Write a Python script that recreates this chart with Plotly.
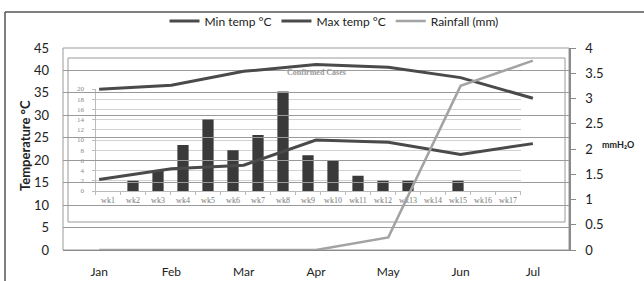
import plotly.graph_objects as go

months = ["Jan", "Feb", "Mar", "Apr", "May", "Jun", "Jul"]
min_temp = [15.7, 18.1, 18.9, 24.5, 24.0, 21.3, 23.7]
max_temp = [35.8, 36.7, 39.8, 41.3, 40.7, 38.4, 33.8]
rainfall = [0, 0, 0, 0, 0.25, 3.25, 3.75]

weeks = ["wk%d" % i for i in range(1, 18)]
cases = [0, 2, 4, 9, 14, 8, 11, 19.5, 7, 6, 3, 2, 2, 0, 2, 0, 0]

left_ticks = [0, 5, 10, 15, 20, 25, 30, 35, 40, 45]
right_ticks = [0, 0.5, 1, 1.5, 2, 2.5, 3, 3.5, 4]
inset_ticks = list(range(0, 21, 2))

W, H = 644, 281
L, R, T, B = 63, 569, 48, 250
pw, ph = R - L, B - T


def px(x):
    return (x - L) / pw


def py(y):
    return (B - y) / ph


fig = go.Figure()

# inset bar chart (drawn first, underneath)
fig.add_trace(go.Bar(x=weeks, y=cases, xaxis="x", yaxis="y",
                     marker=dict(color="#3a3a3a", line=dict(width=0)),
                     showlegend=False, hoverinfo="skip"))

# main lines
fig.add_trace(go.Scatter(x=months, y=min_temp, xaxis="x2", yaxis="y2", mode="lines",
                         name="Min temp °C", line=dict(color="#4a4a4a", width=3)))
fig.add_trace(go.Scatter(x=months, y=max_temp, xaxis="x2", yaxis="y2", mode="lines",
                         name="Max temp °C", line=dict(color="#4a4a4a", width=3)))
fig.add_trace(go.Scatter(x=months, y=rainfall, xaxis="x2", yaxis="y3", mode="lines",
                         name="Rainfall (mm)", line=dict(color="#a3a3a3", width=2.5)))

tickfont = dict(family="Lato, Open Sans, sans-serif", size=13, color="#222")

fig.update_layout(
    width=W, height=H,
    margin=dict(l=L, r=W - R, t=T, b=H - B, pad=0, autoexpand=False),
    paper_bgcolor="white", plot_bgcolor="rgba(0,0,0,0)",
    bargap=0.55,
    font=dict(family="Lato, Open Sans, sans-serif", color="#222"),
    legend=dict(orientation="h", x=px(334), xanchor="center", y=py(21), yanchor="middle",
                font=dict(size=12, color="#222"), itemwidth=30, bgcolor="rgba(0,0,0,0)",
                traceorder="normal"),
    xaxis=dict(domain=[px(95.5), px(520.5)], anchor="y", type="category",
               categoryorder="array", categoryarray=weeks,
               showgrid=False, showline=True, linecolor="#bbbbbb", linewidth=1,
               ticks="outside", ticklen=3, tickcolor="#bbbbbb", tickson="boundaries",
               tickfont=dict(family="Liberation Serif, serif", size=8, color="#777"),
               ticklabelstandoff=1, tickangle=0),
    yaxis=dict(domain=[py(191), py(89)], anchor="x", range=[0, 20],
               tickvals=inset_ticks, showgrid=True, gridcolor="#d2d2d2", gridwidth=1,
               showline=True, linecolor="#bbbbbb", linewidth=1,
               ticks="outside", ticklen=3, tickcolor="#bbbbbb",
               tickfont=dict(family="Liberation Serif, serif", size=7, color="#888"),
               ticklabelstandoff=6, zeroline=False),
    xaxis2=dict(domain=[0, 1], anchor="y2", type="category",
                categoryorder="array", categoryarray=months,
                showgrid=False, showline=True, linecolor="#8a8a8a", linewidth=1,
                ticks="", tickfont=dict(family="Lato, Open Sans, sans-serif", size=12, color="#222"),
                ticklabelstandoff=11, range=[-0.5, 6.5]),
    yaxis2=dict(domain=[0, 1], anchor="x2", range=[0, 45], tickvals=left_ticks,
                showgrid=True, gridcolor="#9a9a9a", gridwidth=1, zeroline=False,
                showline=False, ticks="", tickfont=tickfont, ticklabelstandoff=13),
    yaxis3=dict(overlaying="y2", side="right", anchor="x2", range=[0, 4],
                tickvals=right_ticks, showgrid=False, zeroline=False,
                showline=True, linecolor="#8a8a8a", linewidth=1.5,
                ticks="outside", ticklen=5, tickcolor="#8a8a8a",
                tickfont=tickfont, ticklabelstandoff=7),
    shapes=[
        # outer figure frame
        dict(type="line", xref="paper", yref="paper", x0=px(5), x1=px(5), y0=py(12), y1=py(300),
             line=dict(color="#555", width=1.5)),
        dict(type="line", xref="paper", yref="paper", x0=px(5), x1=px(700), y0=py(12), y1=py(12),
             line=dict(color="#555", width=1.5)),
        # plot area box
        dict(type="rect", xref="paper", yref="paper", x0=0, x1=1, y0=0, y1=1,
             line=dict(color="#9a9a9a", width=1), layer="below"),
        # inner box
        dict(type="rect", xref="paper", yref="paper", x0=px(68), x1=px(565), y0=py(222), y1=py(58),
             line=dict(color="#9a9a9a", width=1), layer="below"),
    ],
    annotations=[
        dict(text="<b>Temperature °C</b>", xref="paper", yref="paper", x=px(25), y=py(146),
             textangle=-90, showarrow=False, font=dict(size=13, color="#222"),
             xanchor="center", yanchor="middle"),
        dict(text="<b>mmH₂O</b>", xref="paper", yref="paper", x=px(600), y=py(144),
             showarrow=False, font=dict(size=9, color="#222"), xanchor="left", yanchor="middle"),
        dict(text="<b>Confirmed Cases</b>", xref="paper", yref="paper", x=px(316), y=py(72),
             showarrow=False, font=dict(family="Liberation Serif, serif", size=8, color="#999"),
             xanchor="center", yanchor="middle"),
    ],
)

fig.write_html("out.html", config={"displayModeBar": False},
               post_script="document.body.style.margin='0';document.body.style.overflow='hidden';")
